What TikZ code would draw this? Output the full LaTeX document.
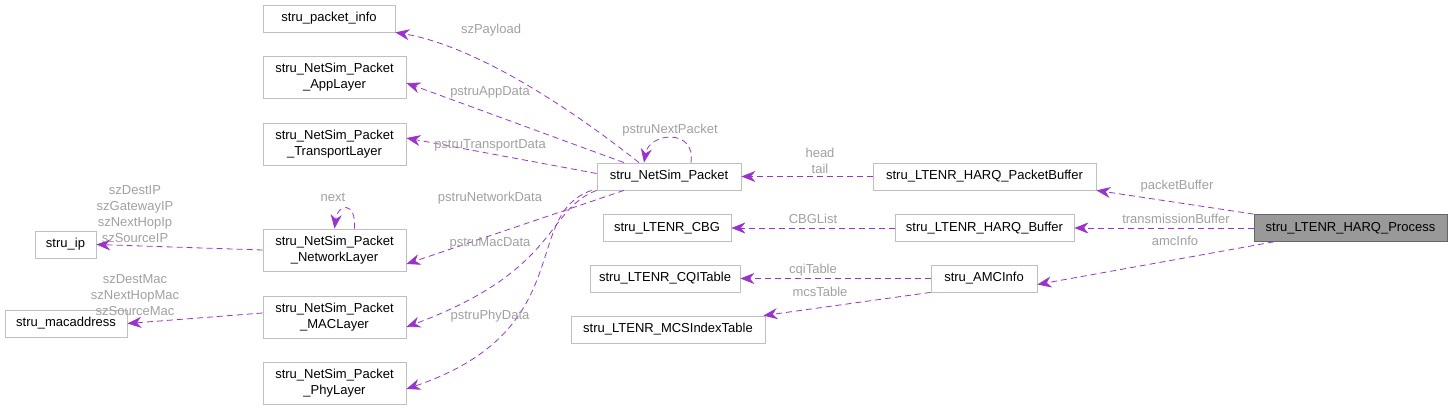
\documentclass[tikz,border=0pt]{standalone}
\usepackage{fontspec}
\setmainfont{Liberation Sans}
\usetikzlibrary{arrows.meta}
\definecolor{edgecol}{HTML}{9A32CD}
\definecolor{labcol}{HTML}{A0A0A0}
\definecolor{boxcol}{HTML}{BFBFBF}
\tikzset{
  cls/.style={draw=boxcol,thick,fill=white,inner sep=0pt,align=center,font=\fontsize{13}{16}\selectfont},
  rel/.style={-{Stealth[length=14pt,width=11pt]},dashed,dash pattern=on 6pt off 4pt,edgecol,thick},
  lab/.style={text=labcol,font=\fontsize{13}{16}\selectfont,align=center,inner sep=1pt}
}
\begin{document}
\begin{tikzpicture}[x=1pt, y=-1pt]
      \useasboundingbox (0,0) rectangle (1454,411);
      \node[cls,minimum width=132pt,minimum height=27pt] (pinfo) at (329,18.5) {stru\_packet\_info};
      \node[cls,minimum width=143pt,minimum height=42pt] (app) at (334.5,77) {stru\_NetSim\_Packet\\\_AppLayer};
      \node[cls,minimum width=143pt,minimum height=42pt] (trans) at (334.5,144) {stru\_NetSim\_Packet\\\_TransportLayer};
      \node[cls,minimum width=143pt,minimum height=42pt] (net) at (334.5,250) {stru\_NetSim\_Packet\\\_NetworkLayer};
      \node[cls,minimum width=143pt,minimum height=42pt] (mac) at (334.5,317) {stru\_NetSim\_Packet\\\_MACLayer};
      \node[cls,minimum width=143pt,minimum height=42pt] (phy) at (334.5,383) {stru\_NetSim\_Packet\\\_PhyLayer};
      \node[cls,minimum width=61pt,minimum height=27pt] (ip) at (65.5,244.5) {stru\_ip};
      \node[cls,minimum width=122pt,minimum height=27pt] (macaddr) at (66,323.5) {stru\_macaddress};
      \node[cls,minimum width=144pt,minimum height=27pt] (packet) at (669,176.5) {stru\_NetSim\_Packet};
      \node[cls,minimum width=128pt,minimum height=27pt] (cbg) at (667,228) {stru\_LTENR\_CBG};
      \node[cls,minimum width=150pt,minimum height=27pt] (cqi) at (665,278.5) {stru\_LTENR\_CQITable};
      \node[cls,minimum width=194pt,minimum height=27pt] (mcs) at (668,329.5) {stru\_LTENR\_MCSIndexTable};
      \node[cls,minimum width=223pt,minimum height=27pt] (pbuf) at (984.5,176.5) {stru\_LTENR\_HARQ\_PacketBuffer};
      \node[cls,minimum width=179pt,minimum height=27pt] (hbuf) at (984.5,228) {stru\_LTENR\_HARQ\_Buffer};
      \node[cls,minimum width=106pt,minimum height=27pt] (amc) at (984,278.5) {stru\_AMCInfo};
      \node[cls,fill=black!40,draw=black!60,minimum width=193pt,minimum height=27pt] (proc) at (1350.5,228) {stru\_LTENR\_HARQ\_Process};
      % members of the process
      \draw[rel] (proc.north west) -- (pbuf.south east);
      \node[lab] at (1177,186) {packetBuffer};
      \draw[rel] (proc) -- (hbuf);
      \node[lab] at (1176,219) {transmissionBuffer};
      \draw[rel] ([xshift=20pt]proc.south west) -- ([yshift=-6pt]amc.east);
      \node[lab] at (1175,241) {amcInfo};
      \draw[rel] (hbuf) -- (cbg);
      \node[lab] at (813,219) {CBGList};
      \draw[rel] (amc) -- (cqi);
      \node[lab] at (813,270) {cqiTable};
      \draw[rel] (amc.south west) -- ([xshift=-2pt]mcs.north east);
      \node[lab] at (820,292) {mcsTable};
      \draw[rel] (pbuf) -- (packet);
      \node[lab] at (820,161) {head\\tail};
      % packet layers
      \draw[rel] ([xshift=-30pt]packet.north) .. controls (560,100) and (470,45) .. (pinfo.south east);
      \node[lab] at (491,30) {szPayload};
      \draw[rel] ([xshift=-45pt]packet.north) -- ([yshift=-6pt]app.east);
      \node[lab] at (490,92) {pstruAppData};
      \draw[rel] ([yshift=3pt]packet.west) -- ([yshift=6pt]trans.east);
      \node[lab] at (490,145) {pstruTransportData};
      \draw[rel] ([xshift=-45pt]packet.south) -- ([yshift=-14pt]net.east);
      \node[lab] at (490,198) {pstruNetworkData};
      \draw[rel] (packet.south west) .. controls (545,210) and (560,270) .. ([yshift=-10pt]mac.east);
      \node[lab] at (490,243) {pstruMacData};
      \draw[rel] ([xshift=-5pt]packet.south west) .. controls (520,215) and (580,330) .. ([yshift=-6pt]phy.east);
      \node[lab] at (490,316) {pstruPhyData};
      \draw[rel] ([xshift=22pt]packet.north) .. controls +(5,-35) and +(5,-30) .. ([xshift=-25pt]packet.north);
      \node[lab] at (670,130) {pstruNextPacket};
      \draw[rel] ([xshift=20pt]net.north) .. controls +(2,-28) and +(3,-25) .. (net.north);
      \node[lab] at (333,197) {next};
      % addresses
      \draw[rel] (net.west) -- (ip.east);
      \node[lab] at (135,214) {szDestIP\\szGatewayIP\\szNextHopIp\\szSourceIP};
      \draw[rel] ([yshift=4pt]mac.west) -- (macaddr.east);
      \node[lab] at (135,295) {szDestMac\\szNextHopMac\\szSourceMac};
\end{tikzpicture}
\end{document}
